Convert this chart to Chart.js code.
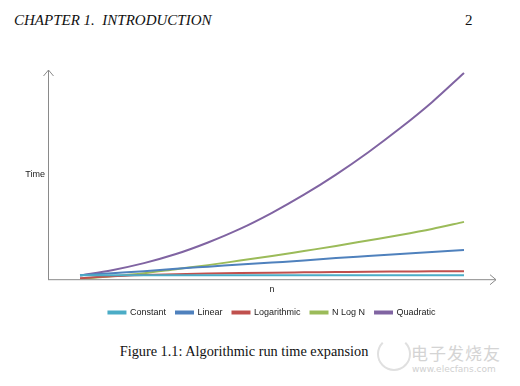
<!DOCTYPE html>
<html>
<head>
<meta charset="utf-8">
<script src="https://cdn.jsdelivr.net/npm/chart.js@4/dist/chart.umd.min.js"></script>
<style>
  body { margin: 0; background: #fff; width: 520px; height: 386px; position: relative; overflow: hidden; }
  #wrap { position: absolute; left: 0; top: 0; width: 520px; height: 327px; }
  .hdr { position: absolute; top: 11px; font: italic 15px "Liberation Serif", serif; color: #111; white-space: pre; line-height: 18px; }
  .pg { position: absolute; top: 11px; left: 465px; font: 15px "Liberation Serif", serif; color: #111; line-height: 18px; }
  .cap { position: absolute; top: 343px; left: 0; width: 520px; text-align: center; font: 14.3px "Liberation Serif", serif; color: #111; padding-right: 32px; box-sizing: border-box; }
  .wm1 { position: absolute; left: 411px; top: 340px; font: 17px "Noto Sans CJK SC", sans-serif; color: #d4d4d4; letter-spacing: 1px; }
  .wm2 { position: absolute; left: 412px; top: 364px; font: 9px "DejaVu Sans", sans-serif; color: #d0d0d0; }
  .logo { position: absolute; left: 377px; top: 337px; width: 30px; height: 30px; border: 2px solid #e0e0e0; border-radius: 50%; border-top-color: transparent; }
</style>
</head>
<body>
<div class="hdr" style="left:14px">CHAPTER 1.  INTRODUCTION</div>
<div class="pg">2</div>
<div id="wrap"><canvas id="myChart"></canvas></div>
<div class="cap">Figure 1.1: Algorithmic run time expansion</div>
<div class="logo"></div>
<div class="wm1">电子发烧友</div>
<div class="wm2">www.elecfans.com</div>
<script>
// values (arbitrary time units)
const nValues = [1, 2, 3, 4, 5, 6, 7, 8, 9, 10, 11, 12, 13];
const constant = [4, 4, 4, 4, 4, 4, 4, 4, 4, 4, 4, 4, 4];
const linear = [4, 6, 8, 10.5, 12.5, 14.5, 16.5, 18.5, 21, 23, 25, 27, 29];
const logarithmic = [1, 3, 4.2, 5, 5.6, 6.1, 6.5, 6.8, 7.1, 7.4, 7.6, 7.8, 8];
const nLogN = [0.5, 3, 6, 10, 14, 18.5, 23, 28, 33, 38.5, 44, 50, 57];
const quadratic = [3.7, 9, 16, 25, 36.5, 50, 66, 84, 104, 126, 150, 176, 205];

const seriesNames = ['Constant', 'Linear', 'Logarithmic', 'N Log N', 'Quadratic'];
const seriesColors = ['#4bacc6', '#4f81bd', '#c0504d', '#9bbb59', '#8064a2'];
const seriesValues = [constant, linear, logarithmic, nLogN, quadratic];

const toPoints = (vals) => vals.map((v, i) => ({x: nValues[i], y: v}));

// axis lines with arrow heads, plus the horizontal "Time" label
const arrowAxes = {
    id: 'arrowAxes',
    beforeDatasetsDraw(chart) {
        const {ctx, chartArea: a} = chart;
        ctx.save();
        ctx.strokeStyle = '#8a8a8a';
        ctx.lineWidth = 1;
        ctx.beginPath();
        ctx.moveTo(a.left + 0.5, a.bottom + 0.5);
        ctx.lineTo(a.left + 0.5, a.top);
        ctx.moveTo(a.left - 4.5, a.top + 6);
        ctx.lineTo(a.left + 0.5, a.top);
        ctx.lineTo(a.left + 5.5, a.top + 6);
        ctx.moveTo(a.left, a.bottom + 0.5);
        ctx.lineTo(a.right, a.bottom + 0.5);
        ctx.moveTo(a.right - 6, a.bottom - 4.5);
        ctx.lineTo(a.right, a.bottom + 0.5);
        ctx.lineTo(a.right - 6, a.bottom + 5.5);
        ctx.stroke();

        ctx.fillStyle = '#222';
        ctx.font = '9px "Liberation Sans", Arial, sans-serif';
        ctx.textAlign = 'right';
        ctx.textBaseline = 'middle';
        ctx.fillText('Time', a.left - 3, (a.top + a.bottom) / 2);
        ctx.restore();
    }
};

var ctx = document.getElementById('myChart').getContext('2d');
var chart = new Chart(ctx, {
    type: 'line',
    data: {
        datasets: seriesNames.map((name, i) => ({
            label: name,
            data: toPoints(seriesValues[i]),
            borderColor: seriesColors[i],
            backgroundColor: seriesColors[i],
            borderWidth: 2,
            pointRadius: 0,
            cubicInterpolationMode: 'monotone',
            fill: false
        }))
    },
    options: {
        responsive: true,
        maintainAspectRatio: false,
        animation: false,
        layout: {
            padding: {top: 70, left: 48, right: 24, bottom: 0}
        },
        scales: {
            x: {
                type: 'linear',
                min: 0,
                max: 14,
                grid: {display: false, drawTicks: false},
                border: {display: false},
                ticks: {display: false},
                title: {
                    display: true,
                    text: 'n',
                    color: '#222',
                    font: {family: '"Liberation Sans", Arial, sans-serif', size: 9},
                    padding: {top: 5, bottom: 3}
                }
            },
            y: {
                display: false,
                min: 0,
                max: 208
            }
        },
        plugins: {
            legend: {
                position: 'bottom',
                labels: {
                    boxWidth: 17,
                    boxHeight: 2,
                    padding: 10,
                    color: '#222',
                    font: {family: '"Liberation Sans", Arial, sans-serif', size: 9}
                }
            },
            tooltip: {enabled: false}
        }
    },
    plugins: [arrowAxes]
});
</script>
</body>
</html>
